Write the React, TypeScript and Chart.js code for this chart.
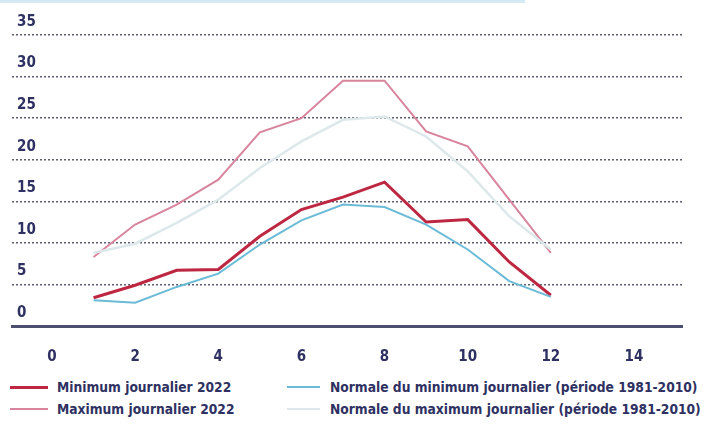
import React, { useEffect, useRef } from "react";
import { Chart, registerables } from "chart.js";

Chart.register(...registerables);

const months = [1, 2, 3, 4, 5, 6, 7, 8, 9, 10, 11, 12];
const minimum2022 = [3.4, 4.9, 6.7, 6.8, 10.8, 14.0, 15.5, 17.3, 12.5, 12.8, 7.7, 3.7];
const normaleMin = [3.1, 2.8, 4.7, 6.3, 9.8, 12.7, 14.6, 14.3, 12.2, 9.2, 5.4, 3.5];
const maximum2022 = [8.3, 12.2, 14.6, 17.6, 23.3, 25.0, 29.5, 29.5, 23.4, 21.6, 15.2, 8.8];
const normaleMax = [8.8, 9.9, 12.4, 15.2, 19.0, 22.2, 24.8, 25.2, 22.8, 18.6, 13.2, 9.2];
const xTicks = [0, 2, 4, 6, 8, 10, 12, 14];
const yTicks = [0, 5, 10, 15, 20, 25, 30, 35];

const labels = [
  "Minimum journalier 2022",
  "Normale du minimum journalier (période 1981-2010)",
  "Maximum journalier 2022",
  "Normale du maximum journalier (période 1981-2010)",
];
const colors = ["#bd2741", "#6bbbd6", "#d8849c", "#dde8ea"];
const widths = [3, 2, 2, 2.5];

const FONT = "'DejaVu Sans Condensed', 'DejaVu Sans', sans-serif";
const NAVY = "#2e3161";

export default function App() {
  const ref = useRef<HTMLCanvasElement>(null);
  useEffect(() => {
    const series = [minimum2022, normaleMin, maximum2022, normaleMax];
    const order = [3, 1, 2, 0];
    const chart = new Chart(ref.current!, {
      type: "line",
      data: {
        datasets: order.map((i) => ({
          label: labels[i],
          data: months.map((m, k) => ({ x: m, y: series[i][k] })),
          borderColor: colors[i],
          backgroundColor: colors[i],
          borderWidth: widths[i],
          pointRadius: 0,
          tension: 0,
        })),
      },
      options: {
        animation: false,
        responsive: false,
        layout: { padding: { left: 12, right: 25, top: 35, bottom: 0 } },
        plugins: { legend: { display: false }, tooltip: { enabled: false } },
        scales: {
          x: {
            type: "linear",
            min: -0.962,
            max: 15.155,
            afterBuildTicks: (s: any) => {
              s.ticks = xTicks.map((v) => ({ value: v }));
            },
            afterFit: (s: any) => {
              s.height = 44;
            },
            grid: { display: false },
            border: { display: true, color: "#4d4f6e", width: 3 },
            ticks: {
              color: NAVY,
              font: { family: FONT, size: 15, weight: "bold" },
              padding: 14,
              maxRotation: 0,
            },
          },
          y: {
            min: 0,
            max: 35,
            afterBuildTicks: (s: any) => {
              s.ticks = yTicks.map((v) => ({ value: v }));
            },
            afterFit: (s: any) => {
              s.width = 0;
            },
            border: { display: false, dash: [2, 2] },
            grid: {
              color: (ctx: any) => (ctx.tick && ctx.tick.value === 0 ? "rgba(0,0,0,0)" : "#5e5e72"),
              lineWidth: 1.5,
              drawTicks: false,
            },
            ticks: {
              mirror: true,
              padding: 5,
              labelOffset: -13,
              color: NAVY,
              font: { family: FONT, size: 15, weight: "bold" },
            },
          },
        },
      },
    });
    return () => chart.destroy();
  }, []);

  const legendItem = (i: number, left: number, top: number, lineW: number, textLeft: number) => (
    <div key={i} style={{ position: "absolute", left, top, height: 20, width: 700 }}>
      <div
        style={{
          position: "absolute",
          left: 0,
          top: 10 - widths[i] / 2,
          width: lineW,
          height: widths[i],
          background: colors[i],
        }}
      />
      <div
        style={{
          position: "absolute",
          left: textLeft,
          top: 0,
          lineHeight: "20px",
          fontFamily: FONT,
          fontWeight: "bold",
          fontSize: 13.7,
          color: NAVY,
          whiteSpace: "nowrap",
        }}
      >
        {labels[i]}
      </div>
    </div>
  );

  return (
    <div style={{ position: "fixed", left: 0, top: 0, width: 707, height: 425, background: "#fff", overflow: "hidden" }}>
      <div style={{ position: "absolute", left: 0, top: 0, width: 525, height: 3, background: "#d6eaf5" }} />
      <canvas ref={ref} width={707} height={370} style={{ position: "absolute", left: 0, top: 0 }} />
      {legendItem(0, 10, 377, 38, 47)}
      {legendItem(1, 287, 377, 33, 43)}
      {legendItem(2, 10, 399, 38, 47)}
      {legendItem(3, 287, 399, 33, 43)}
    </div>
  );
}
